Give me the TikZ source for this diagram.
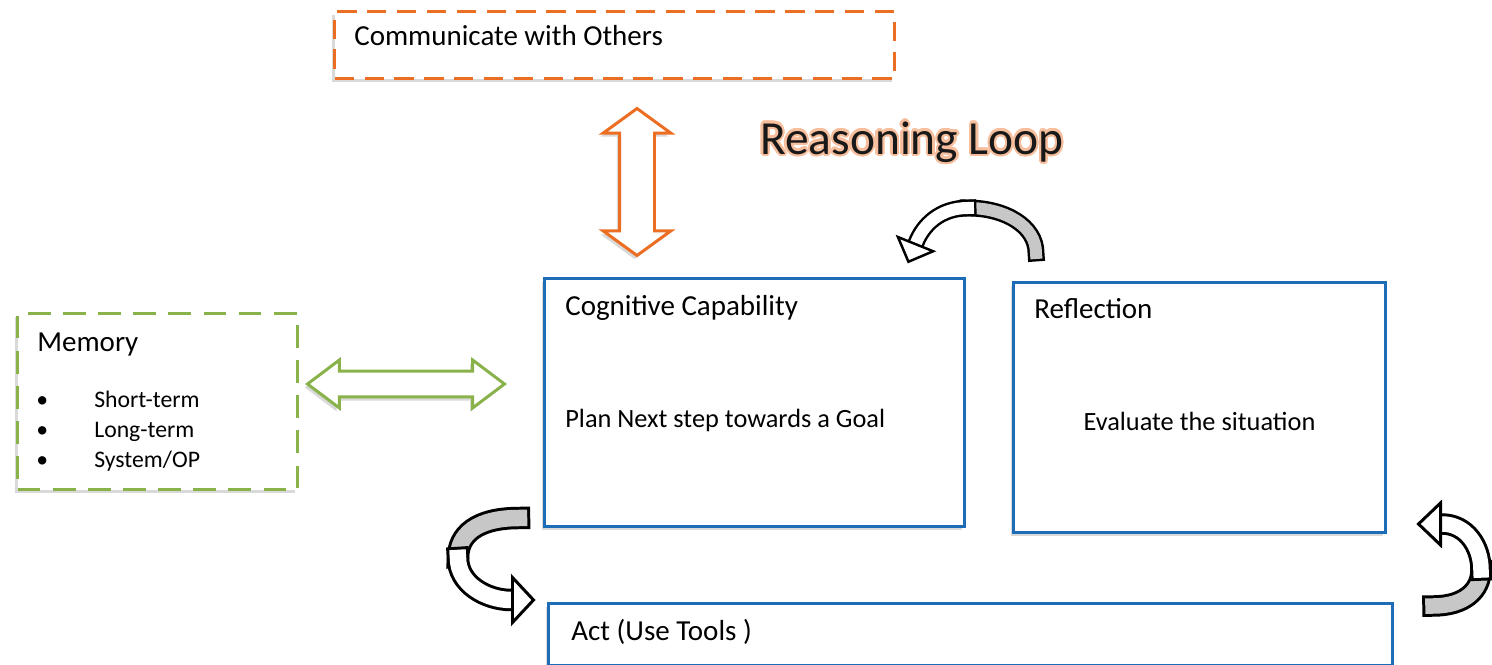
\documentclass[tikz,border=0pt]{standalone}
\usepackage{fontspec}
\setmainfont{Carlito}
\usepackage{contour}
\usetikzlibrary{positioning,shapes.arrows,shapes.geometric,shadows}

\definecolor{agentorange}{RGB}{235,110,35}
\definecolor{agentgreen}{RGB}{137,178,74}
\definecolor{agentblue}{RGB}{28,108,182}
\contourlength{1.3pt}

\tikzset{
  boxshadow/.style={drop shadow={shadow xshift=-1.5pt, shadow yshift=-2pt, opacity=0.3}},
  orangebox/.style={draw=agentorange, line width=1.9pt, dash pattern=on 11pt off 6pt, fill=white, boxshadow, anchor=north west},
  greenbox/.style={draw=agentgreen, line width=1.8pt, dash pattern=on 13pt off 7pt, fill=white, boxshadow, anchor=north west},
  bluebox/.style={draw=agentblue, line width=1.7pt, fill=white, boxshadow, anchor=north west},
  fatarrow/.style={double arrow, draw=#1, line width=1.7pt, fill=white, inner xsep=0pt, boxshadow},
  ribbon/.style={draw=black, line width=1.7pt, double=#1, double distance=0.33cm, line cap=rect},
  headtip/.style={isosceles triangle, isosceles triangle stretches, draw, fill=white, line width=1.7pt, line join=miter, inner sep=0pt, anchor=lower side},
  title/.style={anchor=base west, inner sep=0pt, font=\fontsize{16.5}{20}\selectfont},
  body/.style={anchor=base west, inner sep=0pt, font=\fontsize{15}{18}\selectfont},
  item/.style={anchor=base west, inner sep=0pt, font=\fontsize{13.5}{16}\selectfont},
}

\begin{document}
\begin{tikzpicture}[x=0.02cm, y=-0.02cm]
  \useasboundingbox (0,0) rectangle (1492,665);

  % boxes
  \node (comm) [orangebox, minimum width=11.2cm, minimum height=1.34cm] at (333,10) {};
  \node (mem) [greenbox, minimum width=5.6cm, minimum height=3.52cm] at (16,312) {};
  \node (cog) [bluebox, minimum width=8.4cm, minimum height=4.96cm] at (543,277) {};
  \node (refl) [bluebox, minimum width=7.44cm, minimum height=5cm] at (1012,281) {};
  \node (act) [bluebox, minimum width=16.88cm, minimum height=1.24cm] at (547,602) {};

  % texts
  \node (commtext) [title] at ([shift={(21,36)}]comm.north west) {Communicate with Others};
  \node (memtext) [title] at ([shift={(21,40)}]mem.north west) {Memory};
  \node (memshort) [item] at ([shift={(20,96)}]mem.north west) {\makebox[1.16cm][l]{\textbullet}Short-term};
  \node (memlong) [item] at ([shift={(20,126)}]mem.north west) {\makebox[1.16cm][l]{\textbullet}Long-term};
  \node (memsys) [item] at ([shift={(20,156)}]mem.north west) {\makebox[1.16cm][l]{\textbullet}System/OP};
  \node (cogtext) [title] at ([shift={(22,39)}]cog.north west) {Cognitive Capability};
  \node (plantext) [body] at ([shift={(22,151)}]cog.north west) {Plan Next step towards a Goal};
  \node (refltext) [title] at ([shift={(22,38)}]refl.north west) {Reflection};
  \node (evaltext) [body, anchor=base] at ([shift={(0,150)}]refl.north) {Evaluate the situation};
  \node (acttext) [title] at ([shift={(24,39)}]act.north west) {Act (Use Tools )};
  \node (loop) [font=\fontsize{27}{32}\selectfont, text=black!90] at (912,143) {\contour{agentorange!45}{Reasoning Loop}};

  % fat double arrows
  \node (talk) [fatarrow=agentorange, rotate=90, minimum height=2.94cm, inner ysep=0.32cm,
    double arrow head extend=0.33cm, double arrow tip angle=108] at (637,182) {};
  \node (recall) [fatarrow=agentgreen, minimum height=3.94cm, inner ysep=0.23cm,
    double arrow head extend=0.22cm, double arrow tip angle=74] at (406,384) {};

  % loop back over the top
  \coordinate (topstart) at (1036,253);
  \coordinate (topturn) at (968,208);
  \coordinate (topend) at (916,243);
  \draw[ribbon=black!22, line width=1.4pt, double distance=0.24cm] (topstart) .. controls (1036,226) and (1005,208) .. (topturn);
  \draw[ribbon=white, line width=1.4pt, double distance=0.24cm] (topturn) .. controls (940,208) and (923,225) .. (topend);
  \node (tophead) [headtip, line width=1.4pt, rotate=-112, minimum height=0.38cm, minimum width=0.76cm] at (topend) {};

  % cognitive -> act
  \coordinate (leftstart) at (519,518);
  \coordinate (leftturn) at (458,558);
  \coordinate (leftend) at (511,600);
  \draw[ribbon=black!22] (leftstart) .. controls (476,518) and (458,535) .. (leftturn);
  \draw[ribbon=white] (leftturn) .. controls (458,584) and (486,600) .. (leftend);
  \node (lefthead) [headtip, rotate=0, minimum height=0.42cm, minimum width=0.9cm] at (leftend) {};

  % act -> reflection
  \coordinate (rightstart) at (1433,606);
  \coordinate (rightturn) at (1481,570);
  \coordinate (rightend) at (1442,524);
  \draw[ribbon=black!22, double distance=0.31cm] (rightstart) .. controls (1465,606) and (1481,590) .. (rightturn);
  \draw[ribbon=white, double distance=0.31cm] (rightturn) .. controls (1481,546) and (1466,524) .. (rightend);
  \node (righthead) [headtip, rotate=180, minimum height=0.44cm, minimum width=0.84cm] at (rightend) {};
\end{tikzpicture}
\end{document}
